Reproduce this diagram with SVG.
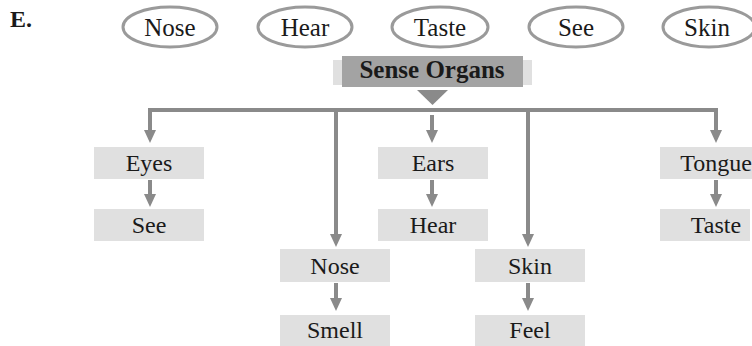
<svg xmlns="http://www.w3.org/2000/svg" width="752" height="346" viewBox="0 0 752 346">
<style>
text{font-family:"Liberation Serif","Times New Roman",serif;fill:#1a1a1a;text-anchor:middle}
.oval{fill:#fff;stroke:#9a9a9a;stroke-width:3}
.ot{font-size:25px}
.box{fill:#e0e0e0}
.bt{font-size:24px}
.ln{stroke:#8a8a8a;stroke-width:4;fill:none}
.ar{stroke:#8a8a8a;stroke-width:4;fill:none;marker-end:url(#ah)}
</style>
<defs>
<marker id="ah" markerUnits="userSpaceOnUse" viewBox="0 0 13 12" refX="2" refY="6" markerWidth="13" markerHeight="12" orient="auto">
<path d="M0,0 L13,6 L0,12 z" fill="#8a8a8a"/>
</marker>
</defs>
<rect width="752" height="346" fill="#fff"/>
<text x="10" y="27" style="font-size:24px;font-weight:bold;text-anchor:start">E.</text>

<g id="oval-nose"><ellipse class="oval" cx="170" cy="27" rx="47" ry="20"/><text class="ot" x="170" y="36">Nose</text></g>
<g id="oval-hear"><ellipse class="oval" cx="305" cy="27" rx="47" ry="20"/><text class="ot" x="305" y="36">Hear</text></g>
<g id="oval-taste"><ellipse class="oval" cx="440" cy="27" rx="48" ry="20"/><text class="ot" x="440" y="36">Taste</text></g>
<g id="oval-see"><ellipse class="oval" cx="576" cy="27" rx="47" ry="20"/><text class="ot" x="576" y="36">See</text></g>
<g id="oval-skin"><ellipse class="oval" cx="709" cy="27" rx="46" ry="20"/><text class="ot" x="707" y="36">Skin</text></g>

<g id="sense-organs">
<rect x="333" y="60" width="199" height="25" fill="#e0e0e0"/>
<rect x="342" y="56" width="181" height="31" fill="#a3a3a3"/>
<text x="432" y="78" style="font-size:25px;font-weight:bold">Sense Organs</text>
</g>

<g id="connectors">
<polygon points="417,90 448,90 432.5,105" fill="#8a8a8a"/>
<line class="ln" x1="148" y1="110" x2="718" y2="110"/>
<line class="ar" x1="150" y1="110" x2="150" y2="132"/>
<line class="ar" x1="432" y1="115" x2="432" y2="132"/>
<line class="ar" x1="716" y1="110" x2="716" y2="132"/>
<line class="ar" x1="336" y1="110" x2="336" y2="236"/>
<line class="ar" x1="528" y1="110" x2="528" y2="236"/>
<line class="ar" x1="150" y1="180" x2="150" y2="196"/>
<line class="ar" x1="432" y1="180" x2="432" y2="196"/>
<line class="ar" x1="716" y1="180" x2="716" y2="196"/>
<line class="ar" x1="336" y1="283" x2="336" y2="300"/>
<line class="ar" x1="528" y1="283" x2="528" y2="300"/>
</g>

<g id="eyes"><rect class="box" x="94" y="147" width="110" height="32"/><text class="bt" x="149" y="171">Eyes</text></g>
<g id="see"><rect class="box" x="94" y="209" width="110" height="32"/><text class="bt" x="149" y="233">See</text></g>
<g id="ears"><rect class="box" x="378" y="147" width="110" height="32"/><text class="bt" x="433" y="171">Ears</text></g>
<g id="hear"><rect class="box" x="378" y="209" width="110" height="32"/><text class="bt" x="433" y="233">Hear</text></g>
<g id="tongue"><rect class="box" x="660" y="147" width="92" height="32"/><text class="bt" x="716" y="171">Tongue</text></g>
<g id="taste"><rect class="box" x="660" y="209" width="90" height="32"/><text class="bt" x="716" y="233">Taste</text></g>
<g id="nose"><rect class="box" x="280" y="249" width="110" height="33"/><text class="bt" x="335" y="274">Nose</text></g>
<g id="smell"><rect class="box" x="280" y="315" width="110" height="31"/><text class="bt" x="335" y="338">Smell</text></g>
<g id="skin"><rect class="box" x="475" y="249" width="110" height="33"/><text class="bt" x="530" y="274">Skin</text></g>
<g id="feel"><rect class="box" x="475" y="315" width="110" height="31"/><text class="bt" x="530" y="338">Feel</text></g>
</svg>
